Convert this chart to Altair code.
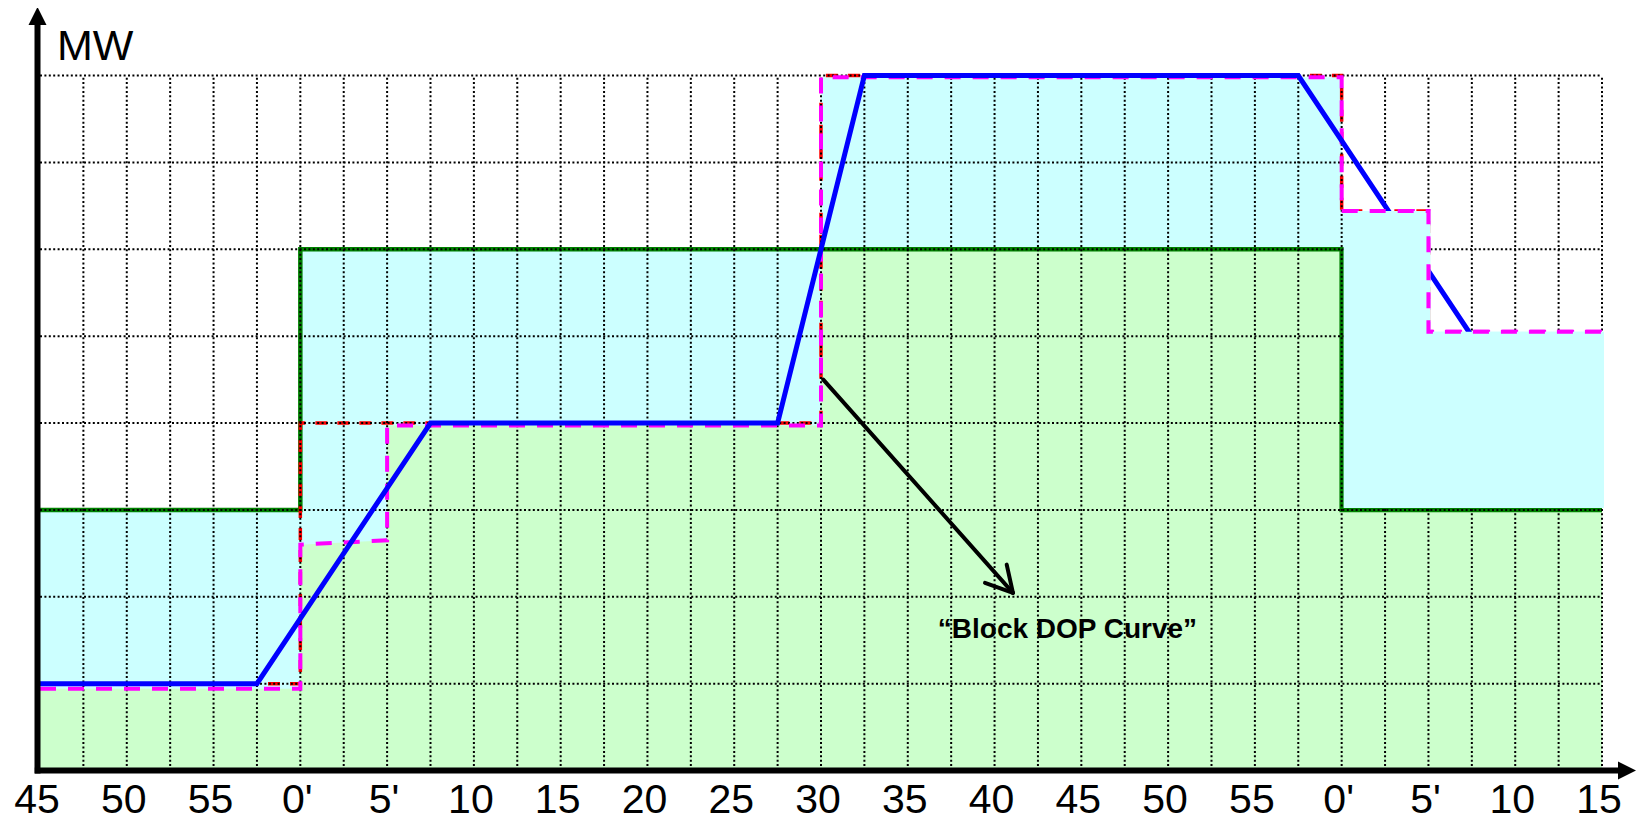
import altair as alt
import numpy as np
import pandas as pd

# ---------------- data (minutes: -15 = :45 of previous hour, 0 = 0', 60 = next 0') ----------------
TICK_VALUES = list(range(-15, 80, 5))
TICK_LABELS = ["45", "50", "55", "0'", "5'", "10", "15", "20", "25", "30",
               "35", "40", "45", "50", "55", "0'", "5'", "10", "15"]

# green step line (schedule)
GREEN_T = [-15, 0, 0, 60, 60, 75]
GREEN_V = [3, 3, 6, 6, 3, 3]

# magenta dashed "Block DOP" step
DOP_T = [-15, 0, 0, 5, 5, 30, 30, 60, 60, 65, 65, 75]
DOP_V = [0.94, 0.94, 2.6, 2.65, 3.97, 3.97, 7.98, 7.98, 6.44, 6.44, 5.05, 5.05]

# red dashed step
RED_T = [-15, 0, 0, 30, 30, 60, 60, 65, 65, 75]
RED_V = [1, 1, 4, 4, 8, 8, 6.44, 6.44, 5, 5]

# blue ramp curve
BLUE_T = [-15, -2.5, 7.5, 27.5, 32.5, 57.5, 67.5, 75]
BLUE_V = [1, 1, 4, 4, 8, 8, 5, 5]

ANNOT_TEXT = "\u201cBlock DOP Curve\u201d"

# ---------------- layout constants ----------------
X_MIN, X_MAX = -15, 75
Y_MIN, Y_MAX = 0, 8
W, H = 1562, 695
FONT = "Liberation Sans, Arial"


def value_at(ts, vs, t, side):
    hits = [i for i, x in enumerate(ts) if x == t]
    if hits:
        return vs[hits[0]] if side == "L" else vs[hits[-1]]
    for i in range(len(ts) - 1):
        if ts[i] < t < ts[i + 1]:
            return vs[i] + (vs[i + 1] - vs[i]) * (t - ts[i]) / (ts[i + 1] - ts[i])
    return vs[-1]


rows = []
for t in sorted(set(GREEN_T) | set(DOP_T)):
    for side in ("L", "R"):
        g = value_at(GREEN_T, GREEN_V, t, side)
        d = value_at(DOP_T, DOP_V, t, side)
        rows.append({"t": t, "side": side, "hi": max(g, d), "lo": min(g, d)})
env = pd.DataFrame(rows)
box = env[(env.t > 60) | ((env.t == 60) & (env.side == "R"))]


def line_df(ts, vs):
    return pd.DataFrame({"t": ts, "v": vs, "i": list(range(len(ts)))})


green_df = line_df(GREEN_T, GREEN_V)
dop_df = line_df(DOP_T, DOP_V)
dop_tail = dop_df[(dop_df.t >= 65) | ((dop_df.t == 60) & (dop_df.v < 7))]
red_df = line_df(RED_T, RED_V)
blue_df = line_df(BLUE_T, BLUE_V)
tick_df = pd.DataFrame({"t": TICK_VALUES, "s": TICK_LABELS})

vgrid = pd.DataFrame({"t": np.arange(X_MIN + 2.5, X_MAX + 0.01, 2.5), "y0": Y_MIN, "y1": Y_MAX})
hgrid = pd.DataFrame({"v": np.arange(Y_MIN + 1, Y_MAX + 1), "t0": X_MIN, "t1": X_MAX})

# annotation arrow (shaft + two head strokes)
arrow_df = pd.DataFrame({
    "x": [30.13, 41.06, 41.06],
    "y": [4.50, 2.045, 2.045],
    "x2": [41.06, 40.70, 39.45],
    "y2": [2.045, 2.37, 2.16],
})
label_df = pd.DataFrame({"t": [44.2], "v": [1.52], "s": [ANNOT_TEXT]})

xs = alt.Scale(domain=[X_MIN, X_MAX], nice=False, zero=False)
ys = alt.Scale(domain=[Y_MIN, Y_MAX], nice=False, zero=False)


def X(field):
    return alt.X(field, type="quantitative", scale=xs, axis=None)


def Y(field):
    return alt.Y(field, type="quantitative", scale=ys, axis=None, stack=None)


cyan = alt.Chart(env).mark_area(color="#CCFFFF", opacity=1).encode(
    x=X("t"), y=Y("hi"), y2=alt.datum(0))
lgreen = alt.Chart(env).mark_area(color="#CCFFCC", opacity=1).encode(
    x=X("t"), y=Y("lo"), y2=alt.datum(0))

green_line = alt.Chart(green_df).mark_line(color="#008000", strokeWidth=4.5).encode(
    x=X("t"), y=Y("v"), order=alt.Order("i:Q"))
red_line = alt.Chart(red_df).mark_line(color="#FF0000", strokeWidth=3.5, strokeDash=[12, 10],
                                       strokeDashOffset=14).encode(
    x=X("t"), y=Y("v"), order=alt.Order("i:Q"))

grid_style = dict(color="black", strokeWidth=2, strokeDash=[2, 2.4])
vg = alt.Chart(vgrid).mark_rule(**grid_style).encode(x=X("t"), y=Y("y0"), y2="y1")
hg = alt.Chart(hgrid).mark_rule(**grid_style).encode(x=X("t0"), x2="t1", y=Y("v"))

dop_line = alt.Chart(dop_df).mark_line(color="#FF00FF", strokeWidth=4, strokeDash=[16, 12]).encode(
    x=X("t"), y=Y("v"), order=alt.Order("i:Q"))
blue_line = alt.Chart(blue_df).mark_line(color="#0000FF", strokeWidth=5).encode(
    x=X("t"), y=Y("v"), order=alt.Order("i:Q"))

box_area = alt.Chart(box).mark_area(color="#CCFFFF", opacity=1, xOffset=2, y2Offset=-2).encode(
    x=X("t"), y=Y("hi"), y2="lo")
dop_tail_line = alt.Chart(dop_tail).mark_line(color="#FF00FF", strokeWidth=4, strokeDash=[16, 12]).encode(
    x=X("t"), y=Y("v"), order=alt.Order("i:Q"))

arrow = alt.Chart(arrow_df).mark_rule(color="black", strokeWidth=4, strokeCap="round").encode(
    x=X("x"), x2="x2", y=Y("y"), y2="y2")
annot = alt.Chart(label_df).mark_text(
    font=FONT, fontSize=28, fontWeight="bold", align="center", baseline="alphabetic", color="black"
).encode(x=X("t"), y=Y("v"), text="s:N")

# x tick labels, positioned by the x scale
ticks = alt.Chart(tick_df).mark_text(
    font=FONT, fontSize=41, align="center", baseline="alphabetic", dx=-3, color="black"
).encode(x=X("t"), y=alt.value(H + 42.5), text="s:N")

# axes with arrows
axes_df = pd.DataFrame({"x": [X_MIN - 0.144, X_MIN - 0.3], "y": [Y_MIN - 0.035, Y_MIN],
                        "x2": [X_MIN - 0.144, 76.44], "y2": [8.685, Y_MIN]})
axes_lines = alt.Chart(axes_df).mark_rule(color="black", strokeWidth=6).encode(
    x=X("x"), x2="x2", y=Y("y"), y2="y2")
yhead = alt.Chart(pd.DataFrame({"x": [X_MIN - 0.144], "y": [8.685]})).mark_point(
    shape="M-1,1L0,-1L1,1Z", size=324, filled=True, color="black", opacity=1, strokeWidth=0
).encode(x=X("x"), y=Y("y"))
xhead = alt.Chart(pd.DataFrame({"x": [76.44], "y": [Y_MIN]})).mark_point(
    shape="M-1,-1L1,0L-1,1Z", size=324, filled=True, color="black", opacity=1, strokeWidth=0
).encode(x=X("x"), y=Y("y"))

mw = alt.Chart(pd.DataFrame({"s": ["MW"]})).mark_text(
    font=FONT, fontSize=43, align="left", baseline="alphabetic", color="black"
).encode(text="s:N", x=alt.value(17), y=alt.value(-15.5))

chart = alt.layer(
    cyan, lgreen, green_line, red_line, vg, hg, dop_line, blue_line,
    box_area, dop_tail_line, arrow, annot, ticks, axes_lines, yhead, xhead, mw,
).properties(
    width=W, height=H,
    padding={"left": 32, "top": 67.5, "right": 34, "bottom": 51.5},
    autosize=alt.AutoSizeParams(type="none"),
).configure_view(stroke=None)

chart.save("out.html", embed_options={"renderer": "svg", "actions": False})
